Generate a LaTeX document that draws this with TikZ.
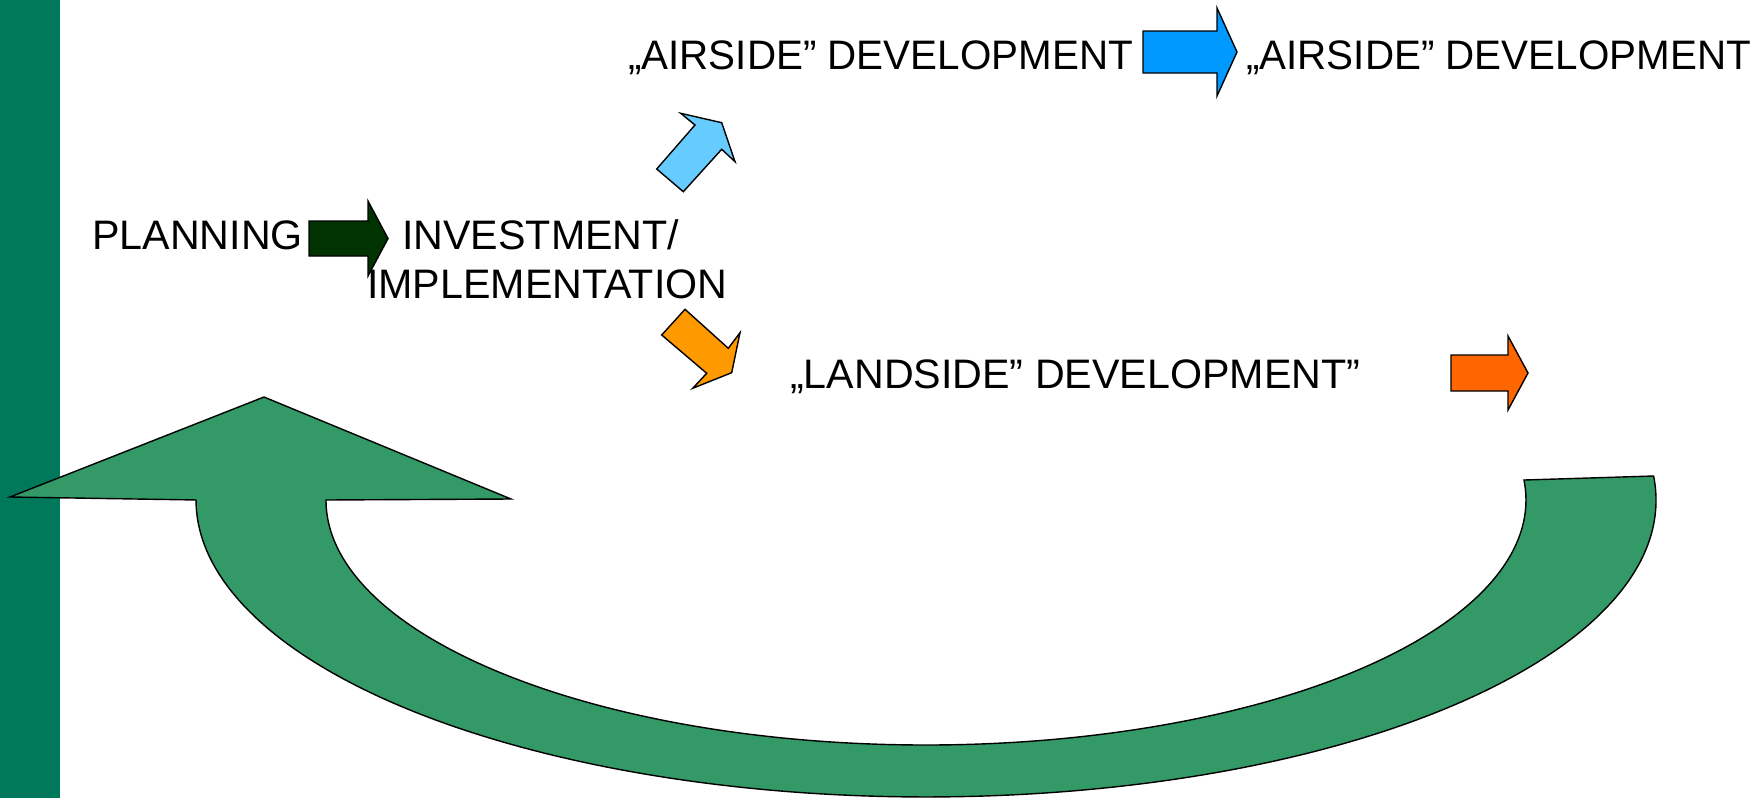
\documentclass[tikz,border=0pt]{standalone}
\usepackage{fontspec}
\setmainfont{Liberation Sans}
\newfontfamily\narrowface{Liberation Sans}[FakeStretch=0.98]

\definecolor{barGreen}{RGB}{0,120,90}
\definecolor{loopGreen}{RGB}{51,153,102}
\definecolor{darkGreen}{RGB}{0,51,0}
\definecolor{skyBlue}{RGB}{102,204,255}
\definecolor{airBlue}{RGB}{0,153,255}
\definecolor{landOrange}{RGB}{255,153,0}
\definecolor{redOrange}{RGB}{255,102,0}

\tikzset{
	blockarrow/.style={draw=black, line width=1.4pt, line join=miter},
	txt/.style={anchor=base west, inner sep=0pt, font=\fontsize{41.2}{49}\selectfont},
	airtxt/.style={txt, font=\narrowface\fontsize{41.2}{49}\selectfont}
}

\begin{document}
\begin{tikzpicture}[x=1pt, y=-1pt]
	\useasboundingbox
		(0,0) rectangle (1758,798);

	\fill [barGreen]
		(0,0) rectangle (60,798);

	\node [txt] (planning) at (92,249) {PLANNING};

	\node [txt] (invest) at (402,249) {INVESTMENT/};

	\node [txt] (implem) at (367,298) {IMPLEMENTATION};

	\node [airtxt] (airsideA) at (628,69) {„AIRSIDE” DEVELOPMENT};

	\node [airtxt] (airsideB) at (1246,69) {„AIRSIDE” DEVELOPMENT};

	\node [txt] (landside) at (790,388) {„LANDSIDE” DEVELOPMENT”};

	\draw [blockarrow, fill=darkGreen]
		(309,221) -- (368,221) -- (368,201) -- (388,238.5) -- (368,276) -- (368,256) -- (309,256) -- cycle;

	\draw [blockarrow, fill=airBlue]
		(1143,31) -- (1217,31) -- (1217,8) -- (1237,52) -- (1217,96) -- (1217,73) -- (1143,73) -- cycle;

	\draw [blockarrow, fill=redOrange]
		(1451,355) -- (1508,355) -- (1508,336) -- (1528,373) -- (1508,410) -- (1508,391) -- (1451,391) -- cycle;

	\draw [blockarrow, fill=skyBlue]
		(656.7,169) -- (683.3,191.7) -- (721.7,149.3) -- (735,161.7) -- (721.7,122.7) -- (680.7,113.3) -- (695,125) -- cycle;

	\draw [blockarrow, fill=landOrange]
		(661.7,335) -- (685,309.3) -- (728.3,348.3) -- (740,332.7) -- (731.7,372.7) -- (692.7,388.3) -- (706.7,373.3) -- cycle;

	\draw [blockarrow, fill=loopGreen]
		(1653.6,476) arc [start angle=-4.63, end angle=180, x radius=730, y radius=297]
		-- (10,497) -- (264,397) -- (511,499) -- (326,500)
		arc [start angle=180, end angle=-4.68, x radius=600, y radius=245]
		-- cycle;
\end{tikzpicture}
\end{document}
